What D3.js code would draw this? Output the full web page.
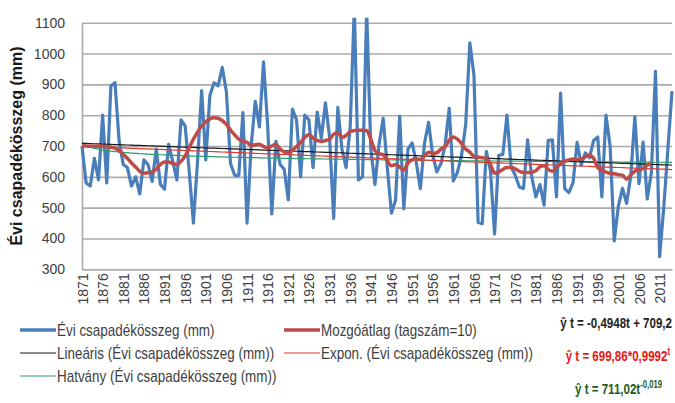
<!DOCTYPE html>
<html>
<head>
<meta charset="utf-8">
<script src="https://cdn.jsdelivr.net/npm/d3@7"></script>
<style>
  body { margin: 0; background: #fff; }
  svg text { font-family: "Liberation Sans", Arial, sans-serif; fill: #404040; }
</style>
</head>
<body>
<div id="chart-area"></div>
<script>
// Years on the category axis
const years = d3.range(1871, 2015);
const tickYears = [1871, 1876, 1881, 1886, 1891, 1896, 1901, 1906, 1911, 1916, 1921, 1926, 1931, 1936,
                   1941, 1946, 1951, 1956, 1961, 1966, 1971, 1976, 1981, 1986, 1991, 1996, 2001, 2006, 2011];
const yTicks = [300, 400, 500, 600, 700, 800, 900, 1000, 1100];

// Évi csapadékösszeg (mm), 1871-2014
const precip = [
  700, 580, 570, 660, 590, 800, 580, 895, 905, 715,
  640, 630, 570, 600, 545, 655, 640, 585, 690, 575,
  560, 705, 650, 590, 785, 765, 615, 450, 650, 880,
  655, 865, 905, 895, 955, 875, 643, 605, 605, 808,
  450, 700, 845, 762, 973, 765, 480, 715, 640, 625,
  525, 820, 785, 600, 800, 785, 630, 810, 725, 840,
  730, 465, 825, 690, 630, 760, 1150, 590, 600, 1140,
  690, 575, 705, 790, 630, 482, 525, 797, 496, 690,
  710, 648, 562, 708, 777, 670, 616, 643, 702, 822,
  587, 615, 670, 770, 1035, 930, 453, 448, 683, 620,
  415, 670, 673, 800, 632, 605, 567, 562, 720, 600,
  535, 575, 508, 718, 720, 535, 872, 562, 549, 580,
  712, 638, 678, 662, 718, 729, 535, 800, 700, 392,
  505, 563, 514, 602, 795, 578, 713, 528, 613, 942,
  341, 500, 690, 878
];

// Mozgóátlag (tagszám=10), 1871-2009
const movingAvg = [
  700, 700, 699, 699, 700, 699, 698, 696, 693, 684,
  673, 660, 645, 632, 618, 612, 613, 616, 625, 640,
  648, 648, 643, 640, 650, 668, 695, 722, 745, 765,
  778, 788, 792, 790, 782, 770, 752, 736, 722, 716,
  712, 702, 704, 706, 698, 694, 700, 706, 690, 681,
  676, 686, 698, 712, 728, 737, 726, 718, 715, 718,
  722, 738, 745, 728, 734, 747, 750, 751, 751, 750,
  722, 685, 675, 672, 652, 636, 640, 632, 622, 645,
  655, 659, 656, 668, 680, 676, 678, 690, 698, 718,
  729, 722, 708, 690, 680, 666, 664, 662, 660, 640,
  612, 616, 624, 630, 630, 626, 618, 614, 614, 615,
  620, 633, 636, 624, 618, 630, 642, 650, 655, 658,
  655, 658, 665, 670, 660, 630, 622, 615, 611, 610,
  607, 605, 592, 606, 618, 624, 627, 638, 642
];

// Trendline coefficients as printed on the chart (t = 1 .. n)
const linearCoef = [-0.4948, 709.2];   // a*t + b
const exponCoef  = [699.86, 0.9992];   // a*b^t
const powerCoef  = [711.02, -0.019];   // a*t^b

const legendItems = [
  { label: "Évi csapadékösszeg (mm)", color: "#4A7EBB", width: 3.5, col: 0, row: 0 },
  { label: "Mozgóátlag (tagszám=10)", color: "#BE4B48", width: 3.5, col: 1, row: 0 },
  { label: "Lineáris (Évi csapadékösszeg (mm))", color: "#1a1a1a", width: 1.2, col: 0, row: 1 },
  { label: "Expon. (Évi csapadékösszeg (mm))", color: "#E8362E", width: 1.2, col: 1, row: 1 },
  { label: "Hatvány (Évi csapadékösszeg (mm))", color: "#2E9E6C", width: 1.2, col: 0, row: 2 }
];


/* SVG */
const margin = { left: 82, right: 3, top: 22.7, bottom: 133.7 };
const width  = 675 - margin.left - margin.right;
const height = 403 - margin.top - margin.bottom;

const svg = d3.select("#chart-area")
    .append("svg")
    .attr("width", 675)
    .attr("height", 403);

const g = svg.append("g")
    .attr("transform", `translate(${margin.left}, ${margin.top})`);

/* Scales */
const x = d3.scalePoint()
    .domain(years)
    .range([0, width]);

const y = d3.scaleLinear()
    .domain([300, 1100])
    .range([height, 0]);

/* Grid */
g.append("g")
    .attr("class", "grid")
    .call(d3.axisLeft(y).tickValues(yTicks).tickSize(-width).tickFormat(""))
    .call(a => a.select(".domain").remove())
    .selectAll("line")
    .attr("stroke", "#ABABAB")
    .attr("stroke-width", 1.6);

/* Axis */
const yAxis = g.append("g")
    .call(d3.axisLeft(y).tickValues(yTicks).tickSize(0).tickPadding(17).tickFormat(d3.format("d")));
yAxis.select(".domain").attr("stroke", "#ABABAB").attr("stroke-width", 1.6);
yAxis.selectAll("text").style("font-size", "14px");

const xAxis = g.append("g")
    .attr("transform", `translate(0,${height})`)
    .call(d3.axisBottom(x).tickValues(tickYears).tickSize(0));
xAxis.select(".domain").attr("stroke", "#ABABAB").attr("stroke-width", 1.6);
xAxis.selectAll("text")
    .style("font-size", "14px")
    .style("text-anchor", "end")
    .attr("transform", "rotate(-90)")
    .attr("x", -4)
    .attr("y", 0)
    .attr("dy", "0.36em");

/* Y title */
svg.append("text")
    .attr("transform", "translate(22, 146) rotate(-90)")
    .attr("text-anchor", "middle")
    .style("font-size", "16px")
    .style("font-weight", "bold")
    .style("fill", "#1a1a1a")
    .text("Évi csapadékösszeg (mm)");

/* Clip */
svg.append("clipPath").attr("id", "plot-clip")
  .append("rect")
    .attr("x", -2).attr("y", -5)
    .attr("width", width + 6).attr("height", height + 7);

const plot = g.append("g").attr("clip-path", "url(#plot-clip)");

/* Series */
const line = d3.line()
    .x(d => x(d.year))
    .y(d => y(d.value));

const precipData = years.map((yr, i) => ({ year: yr, value: precip[i] }));
const avgData = movingAvg.map((v, i) => ({ year: years[i], value: v }));

plot.append("path")
    .datum(precipData)
    .attr("fill", "none")
    .attr("stroke", "#4A7EBB")
    .attr("stroke-width", 3.2)
    .attr("stroke-linejoin", "round")
    .attr("d", line);

/* Trendlines */
const trend = f => years.map((yr, i) => ({ year: yr, value: f(i + 1) }));
const trends = [
  { color: "#2E9E6C", data: trend(t => powerCoef[0] * Math.pow(t, powerCoef[1])) },
  { color: "#E8362E", data: trend(t => exponCoef[0] * Math.pow(exponCoef[1], t)) },
  { color: "#1a1a1a", data: trend(t => linearCoef[0] * t + linearCoef[1]) }
];

plot.selectAll(".trend")
    .data(trends)
    .enter().append("path")
    .attr("class", "trend")
    .attr("fill", "none")
    .attr("stroke", d => d.color)
    .attr("stroke-width", 1.2)
    .attr("d", d => line(d.data));

plot.append("path")
    .datum(avgData)
    .attr("fill", "none")
    .attr("stroke", "#BE4B48")
    .attr("stroke-width", 3.5)
    .attr("stroke-linejoin", "round")
    .attr("d", line.curve(d3.curveMonotoneX));

/* Legend */
const legend = svg.append("g").attr("transform", "translate(20, 330)");
const colX = [0, 264];
const rowH = 23;

const item = legend.selectAll(".item")
    .data(legendItems)
    .enter().append("g")
    .attr("transform", d => `translate(${colX[d.col]}, ${d.row * rowH})`);

item.append("line")
    .attr("x1", 0).attr("x2", 36)
    .attr("stroke", d => d.color)
    .attr("stroke-width", d => d.width);

// condensed look of the original legend font
item.append("text")
    .attr("transform", "translate(37,0) scale(0.84,1)")
    .attr("dy", "0.36em")
    .style("font-size", "16px")
    .text(d => d.label);

/* Equations */
const eqLines = [
  { x: 672, y: 328, color: "#222", main: "ŷ t = -0,4948t + 709,2", sup: "" },
  { x: 670, y: 361, color: "#E8160E", main: "ŷ t = 699,86*0,9992", sup: "t" },
  { x: 662, y: 394, color: "#1F5A24", main: "ŷ t = 711,02t", sup: "-0,019" }
];

const eq = svg.selectAll(".eq")
    .data(eqLines)
    .enter().append("text")
    .attr("class", "eq")
    .attr("transform", d => `translate(${d.x}, ${d.y}) scale(0.77,1)`)
    .attr("text-anchor", "end")
    .style("font-weight", "bold")
    .style("font-size", "15px")
    .style("fill", d => d.color);

eq.append("tspan").text(d => d.main);
eq.filter(d => d.sup).append("tspan")
    .attr("dy", -6)
    .style("font-size", "10px")
    .text(d => d.sup);
</script>
</body>
</html>
